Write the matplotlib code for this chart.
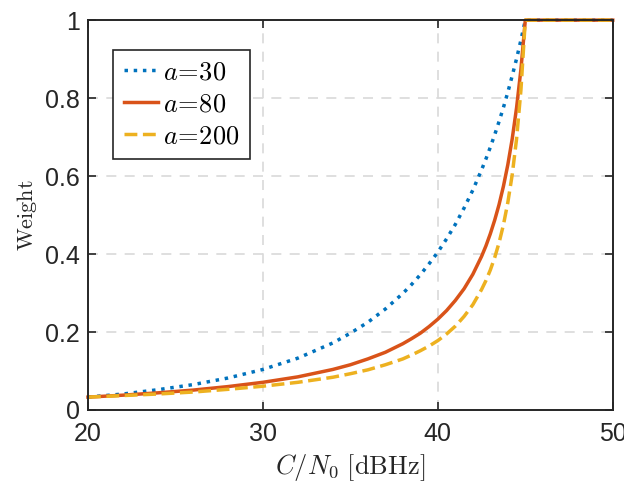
import numpy as np
import matplotlib.pyplot as plt

plt.rcParams['font.family'] = ['Liberation Sans', 'DejaVu Sans']
plt.rcParams['mathtext.fontset'] = 'cm'

# C/N0 sample points [dBHz]
cn0 = [20, 22, 24, 26, 28, 30, 32, 34, 35, 36, 37, 38, 38.5, 39, 39.5,
       40, 40.5, 41, 41.5, 42, 42.5, 42.75, 43, 43.25, 43.5, 43.75,
       44, 44.25, 44.5, 44.75, 45, 50]

# weights
w_a30 = [0.033, 0.041, 0.052, 0.065, 0.082, 0.104, 0.133, 0.172, 0.197,
         0.225, 0.259, 0.299, 0.322, 0.347, 0.375, 0.405, 0.439, 0.476,
         0.518, 0.564, 0.616, 0.644, 0.674, 0.706, 0.740, 0.776, 0.815,
         0.857, 0.901, 0.949, 1.0, 1.0]
w_a80 = [0.033, 0.038, 0.044, 0.051, 0.060, 0.071, 0.085, 0.104, 0.116,
         0.131, 0.148, 0.170, 0.183, 0.197, 0.214, 0.233, 0.255, 0.281,
         0.311, 0.348, 0.394, 0.421, 0.452, 0.487, 0.527, 0.574, 0.629,
         0.695, 0.775, 0.874, 1.0, 1.0]
w_a200 = [0.033, 0.037, 0.041, 0.046, 0.053, 0.061, 0.071, 0.084, 0.093,
          0.103, 0.116, 0.131, 0.141, 0.152, 0.164, 0.178, 0.195, 0.215,
          0.240, 0.270, 0.309, 0.332, 0.359, 0.391, 0.429, 0.475, 0.532,
          0.603, 0.695, 0.821, 1.0, 1.0]

labels = [r'$a\!=\!30$', r'$a\!=\!80$', r'$a\!=\!200$']

fig = plt.figure(figsize=(6.24, 4.91), dpi=100)
ax = fig.add_axes([0.141, 0.165, 0.841, 0.794])

ax.plot(cn0, w_a30, ':', color='#0072BD', lw=2.5, label=labels[0], clip_on=False)
ax.plot(cn0, w_a80, '-', color='#D95319', lw=2.5, label=labels[1], clip_on=False)
ax.plot(cn0, w_a200, '--', color='#EDB120', lw=2.5, label=labels[2], clip_on=False)

ax.set_xlim(20, 50)
ax.set_ylim(0, 1)
ax.set_xticks([20, 30, 40, 50])
ax.set_yticks([0, 0.2, 0.4, 0.6, 0.8, 1])
ax.set_yticklabels(['0', '0.2', '0.4', '0.6', '0.8', '1'])
ax.tick_params(direction='in', top=True, right=True, length=6, width=1.2,
               labelsize=18, colors='#262626')
ax.tick_params(axis='x', pad=9)
ax.tick_params(axis='y', pad=6)
ax.grid(True, ls='--', color='#d9d9d9', lw=1.2, dashes=(6, 5))
ax.set_axisbelow(True)
for s in ax.spines.values():
    s.set_linewidth(1.4)
    s.set_color('#262626')

ax.set_xlabel(r'$C/N_0\ \mathrm{[dBHz]}$', fontsize=19, color='#262626', labelpad=4)
ax.set_ylabel(r'$\mathrm{Weight}$', fontsize=16, color='#262626', labelpad=4)

leg = ax.legend(loc='upper left', bbox_to_anchor=(0.048, 0.923), fontsize=19,
                handlelength=1.3, handletextpad=0.2, borderpad=0.4,
                labelspacing=0.3, fancybox=False, framealpha=1,
                borderaxespad=0)
leg.get_frame().set_edgecolor('#262626')
leg.get_frame().set_linewidth(1.2)

plt.savefig('out.png', dpi=100)
